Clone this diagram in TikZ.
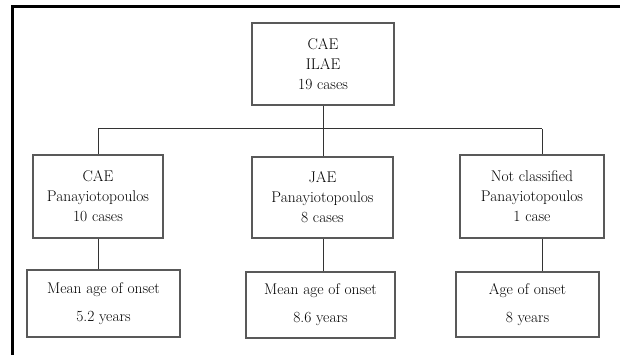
\documentclass[tikz,border=0pt]{standalone}
\begin{document}
\begin{tikzpicture}[x=1pt,y=-1pt,
  box/.style={draw=black!65,line width=1.4pt,fill=white,inner sep=0pt,align=center,
    font=\rmfamily\fontsize{15.5}{20}\selectfont,text=black},
  conn/.style={draw=black!80,line width=1pt}]
\useasboundingbox[fill=white] (0,0) rectangle (620,355);
\draw[line width=3pt] (12,355) -- (12,7) -- (620,7);
\node[box,minimum width=142pt,minimum height=82pt] (top) at (323,64) {CAE\\ILAE\\19 cases};
\node[box,minimum width=130pt,minimum height=83pt] (ml) at (98,196.5) {CAE\\Panayiotopoulos\\10 cases};
\node[box,minimum width=141pt,minimum height=81pt] (mm) at (322.5,197.5) {JAE\\Panayiotopoulos\\8 cases};
\node[box,minimum width=144pt,minimum height=83pt] (mr) at (532,196.5) {Not classified\\Panayiotopoulos\\1 case};
\node[box,minimum width=153pt,minimum height=67pt] (bl) at (103.5,303.5) {Mean age of onset\\[8pt]5.2 years};
\node[box,minimum width=149pt,minimum height=66pt] (bm) at (320.5,305) {Mean age of onset\\[8pt]8.6 years};
\node[box,minimum width=143pt,minimum height=65pt] (br) at (527.5,304.5) {Age of onset\\[8pt]8 years};
\coordinate (j) at (323,129);
\coordinate (jl) at (98,129);
\coordinate (jr) at (542,129);
\draw[conn] (top.south) -- (j);
\draw[conn] (jl) -- (jr);
\draw[conn] (jl) -- (jl |- ml.north);
\draw[conn] (j) -- (j |- mm.north);
\draw[conn] (jr) -- (jr |- mr.north);
\draw[conn] (jl |- ml.south) -- (jl |- bl.north);
\draw[conn] (j |- mm.south) -- (j |- bm.north);
\draw[conn] (jr |- mr.south) -- (jr |- br.north);
\end{tikzpicture}
\end{document}
